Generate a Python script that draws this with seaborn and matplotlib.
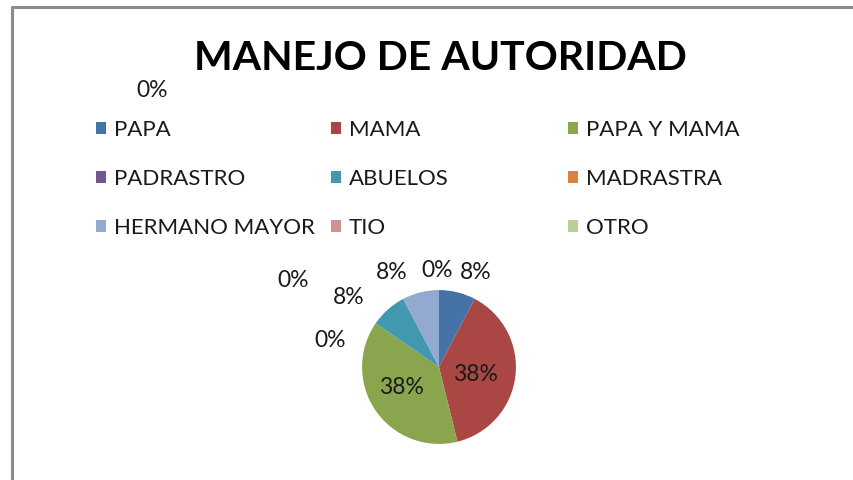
import matplotlib
matplotlib.use("Agg")
import matplotlib.pyplot as plt
from matplotlib.lines import Line2D
from matplotlib.patches import Patch
import seaborn as sns

# datos (13 respuestas en total)
categorias = ["PAPA", "MAMA", "PAPA Y MAMA", "PADRASTRO", "ABUELOS",
              "MADRASTRA", "HERMANO MAYOR", "TIO", "OTRO"]
conteos = [1, 5, 5, 0, 1, 0, 1, 0, 0]
colores = ["#4572A7", "#AA4643", "#89A54E", "#71588F", "#4198AF",
           "#DB843D", "#93A9CF", "#D19392", "#B9CD96"]

# posicion de cada etiqueta de porcentaje (en radios del pastel)
pos_etiquetas = [(0.48, 1.23), (0.48, -0.10), (-0.49, -0.27), (-1.42, 0.35),
                 (-1.18, 0.90), (-1.90, 1.13), (-0.61, 1.23), (-0.03, 1.26),
                 (-3.73, 3.60)]

W, H = 854, 480
sns.set_theme(style="white")
plt.rcParams["font.family"] = ["Lato", "DejaVu Sans"]

fig = plt.figure(figsize=(W / 100, H / 100), dpi=100)
fig.patch.set_facecolor("white")

# marco gris (solo arriba e izquierda visibles)
fig.add_artist(Line2D([12 / W, 12 / W], [0, 1 - 7 / H], color="#8c8c8c", lw=2.2))
fig.add_artist(Line2D([12 / W, 1], [1 - 7 / H, 1 - 7 / H], color="#8c8c8c", lw=2.2))

# titulo
fig.text(440 / W, 1 - 58 / H, "MANEJO DE AUTORIDAD", ha="center", va="center",
         fontsize=29.5, fontweight="bold", color="black")

# pastel
cx, cy, lado = 439, 367, 200
ax = fig.add_axes([(cx - lado / 2) / W, (H - cy - lado / 2) / H, lado / W, lado / H])
wedges, _, autotexts = ax.pie(conteos, colors=colores, startangle=90, counterclock=False,
                              autopct="%.0f%%", wedgeprops=dict(linewidth=0),
                              textprops=dict(fontsize=16.5, color="#1a1a1a"))
for t, p in zip(autotexts, pos_etiquetas):
    t.set_position(p)
    t.set_ha("center")
    t.set_va("center")
ax.set_xlim(-1.3, 1.3)
ax.set_ylim(-1.3, 1.3)
ax.set_aspect("equal")
ax.axis("off")

# leyenda en tres columnas, ordenada por filas
handles = [Patch(facecolor=c, edgecolor="none") for c in colores]
col_x = [96, 331, 568]
for j, x in enumerate(col_x):
    fig.legend(handles=handles[j::3], labels=categorias[j::3], loc="center left",
               bbox_to_anchor=(x / W, 1 - 179 / H), frameon=False, fontsize=16,
               handlelength=0.45, handleheight=0.45, handletextpad=0.35,
               labelspacing=1.3, borderpad=0, borderaxespad=0, labelcolor="#1a1a1a")

fig.savefig("out.png", dpi=100, facecolor="white")
